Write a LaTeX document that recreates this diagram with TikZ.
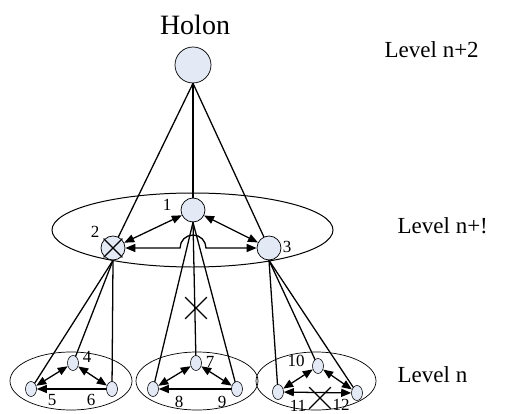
\documentclass[tikz,border=0pt]{standalone}
\usepackage{fontspec}
\setmainfont{Liberation Serif}
\usetikzlibrary{arrows.meta, shapes.geometric, shapes.misc, calc}

\definecolor{holonfill}{RGB}{227,234,246}

\begin{document}
\begin{tikzpicture}[%
        > = {Triangle[length = 10pt, width = 8pt]},
        x = 1pt, y = -1pt,
        line width = 0.45mm,
        line cap = round,
        holon/.style = {circle, draw, fill = holonfill, line width = 0.25mm,
            inner sep = 0pt, minimum size = 24pt},
        part/.style = {ellipse, draw, fill = holonfill, line width = 0.2mm,
            inner sep = 0pt, minimum width = 11pt, minimum height = 15pt},
        group/.style = {ellipse, draw, line width = 0.25mm, inner sep = 0pt},
        cut/.style = {cross out, draw, line width = 0.45mm, inner sep = 0pt},
        num/.style = {font = \fontsize{17}{17}\selectfont, inner sep = 0pt},
        level/.style = {font = \fontsize{23}{23}\selectfont, anchor = west,
            inner sep = 0pt}
    ]

        \useasboundingbox (0, 0) rectangle (505, 414);

        % Groups.
        \node[group, line width = 0.35mm, minimum width = 281pt,
            minimum height = 74pt] (mid) at (192.5, 230) {};
        \node[group, minimum width = 122pt, minimum height = 58pt] (left) at (71, 381) {};
        \node[group, minimum width = 122pt, minimum height = 58pt] (centre) at (197, 381) {};
        \node[group, minimum width = 120pt, minimum height = 58pt] (right) at (316, 381) {};

        % Holons.
        \node[holon, minimum size = 36pt] (top) at (193, 65) {};
        \node[holon] (h1) at (193, 210) {};
        \node[holon] (h2) at (113, 248) {};
        \node[holon] (h3) at (269, 248) {};

        % Parts of each group.
        \node[part] (p4) at (73, 363) {};
        \node[part] (p5) at (31, 389) {};
        \node[part] (p6) at (112, 389) {};
        \node[part] (p7) at (196, 363) {};
        \node[part] (p8) at (153, 389) {};
        \node[part] (p9) at (237, 389) {};
        \node[part] (p10) at (318, 366) {};
        \node[part] (p11) at (278, 392) {};
        \node[part] (p12) at (357, 393) {};

        % Texts.
        \node[font = \fontsize{28}{28}\selectfont, inner sep = 0pt] (name) at (195, 25) {Holon};
        \node[level] (lvl2) at (384, 50) {Level n+2};
        \node[level] (lvl1) at (397, 226) {Level n+!};
        \node[level] (lvl0) at (397, 375) {Level n};
        \node[num] (l1) at (167, 205) {1};
        \node[num] (l2) at (95, 232) {2};
        \node[num] (l3) at (287, 247) {3};
        \node[num] (l4) at (87, 357) {4};
        \node[num] (l5) at (52, 400) {5};
        \node[num] (l6) at (91, 400) {6};
        \node[num] (l7) at (210, 362) {7};
        \node[num] (l8) at (179, 402) {8};
        \node[num] (l9) at (222, 402) {9};
        \node[num] (l10) at (296, 361) {10};
        \node[num] (l11) at (298, 406) {11};
        \node[num] (l12) at (341, 405) {12};

        % From the top holon.
        \draw (top.south) to (h1);
        \draw (top.south) to (h2);
        \draw (top.south) to (h3);

        % Inside level n+1.
        \draw[<->] (h2) to (h1);
        \draw[<->] (h1) to (h3);
        \draw[<->] (h2) to ($(h1 |- h2) + (-13, 0)$)
            arc[start angle = 180, end angle = 0, radius = 13pt] to (h3);

        % Down to level n.
        \draw (h2.south) to (p5);
        \draw (h2.south) to (p4);
        \draw (h2.south) to (p6);
        \draw (h1.south) to (p8);
        \draw (h1.south) to (p7);
        \draw (h1.south) to (p9);
        \draw (h3.south) to (p11);
        \draw (h3.south) to (p10);
        \draw (h3.south) to (p12);

        % Inside level n.
        \draw[<->] (p5) to (p4);
        \draw[<->] (p4) to (p6);
        \draw[->] (p6) to (p5);
        \draw[<->] (p8) to (p7);
        \draw[<->] (p7) to (p9);
        \draw[->] (p9) to (p8);
        \draw[<->] (p11) to (p10);
        \draw[<->] (p10) to (p12);
        \draw[<->] (p12) to (p11);

        % Cut links.
        \node[cut, minimum size = 17pt] (x2) at (h2) {};
        \node[cut, minimum size = 20pt] (x1) at (196, 308) {};
        \node[cut, minimum size = 20pt] (x3) at (320, 398) {};
    \end{tikzpicture}
\end{document}
